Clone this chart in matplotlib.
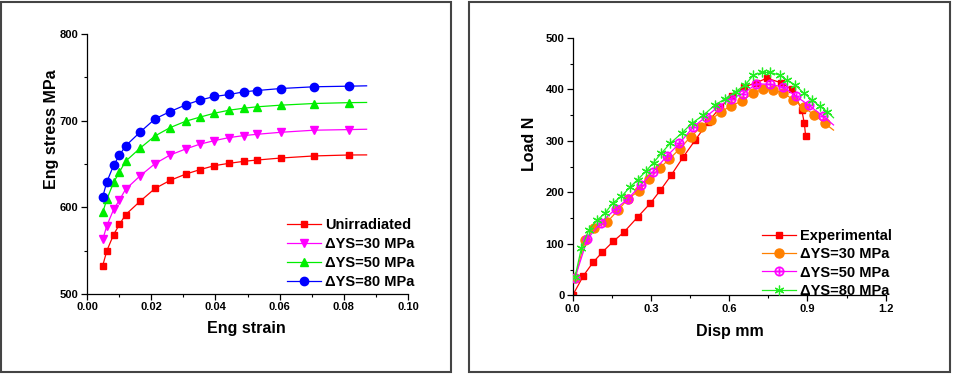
import matplotlib
matplotlib.use('Agg')
import matplotlib.pyplot as plt
from matplotlib.patches import Rectangle
from matplotlib.ticker import MultipleLocator

plt.rcParams['font.family'] = ['Liberation Sans', 'DejaVu Sans']
plt.rcParams['font.weight'] = 'bold'

# ---- left panel data: eng stress-strain ----
strain = [0.0049, 0.0062, 0.0083, 0.0101, 0.0120, 0.0166, 0.0212, 0.0259, 0.0308,
          0.0351, 0.0397, 0.0443, 0.0489, 0.0530, 0.0604, 0.0707, 0.0816, 0.0871]
s_unirr = [532.8, 550.1, 568.6, 580.2, 591.4, 607.2, 621.8, 631.1, 638.4,
           643.4, 648.1, 650.8, 653.1, 654.6, 656.9, 659.3, 660.4, 660.5]
s_30 = [562.9, 579.0, 597.6, 608.4, 620.7, 636.5, 650.4, 660.4, 667.4,
        672.8, 677.0, 680.5, 682.8, 684.3, 686.6, 689.0, 689.7, 690.1]
s_50 = [594.1, 609.5, 628.8, 640.7, 653.1, 668.5, 682.4, 692.0, 699.4,
        704.0, 708.6, 712.1, 714.4, 716.0, 717.9, 719.8, 720.8, 721.0]
s_80 = [612.2, 629.6, 648.5, 660.0, 670.8, 687.0, 702.1, 710.5, 718.3,
        723.7, 727.9, 730.2, 733.3, 734.8, 737.1, 739.1, 739.8, 740.2]

# ---- right panel data: load-displacement ----
d_exp = [0.0, 0.041, 0.078, 0.114, 0.156, 0.197, 0.249, 0.298, 0.336, 0.377, 0.424, 0.469,
         0.518, 0.565, 0.612, 0.658, 0.704, 0.744, 0.799, 0.840, 0.878, 0.888, 0.893]
l_exp = [0, 38, 64, 84, 105, 123, 152, 179, 204, 233, 269, 301,
         336, 365, 388, 405, 413, 422, 413, 400, 361, 334, 310]

d_30 = [0.009, 0.047, 0.082, 0.133, 0.175, 0.213, 0.254, 0.293, 0.333, 0.371, 0.411, 0.452, 0.492,
        0.530, 0.569, 0.607, 0.650, 0.690, 0.729, 0.767, 0.808, 0.846, 0.886, 0.925, 0.967, 1.0]
l_30 = [33, 107, 130, 143, 166, 188, 203, 226, 247, 265, 285, 308, 327,
        341, 357, 368, 378, 393, 400, 399, 393, 380, 365, 351, 334, 321]

d_50 = [0.009, 0.056, 0.107, 0.165, 0.211, 0.261, 0.308, 0.362, 0.409, 0.462, 0.511,
        0.557, 0.605, 0.654, 0.704, 0.755, 0.806, 0.856, 0.906, 0.958, 1.0]
l_50 = [34, 109, 141, 168, 187, 214, 240, 271, 295, 327, 347,
        366, 382, 392, 411, 410, 405, 387, 369, 349, 331]

d_80 = [0.009, 0.033, 0.061, 0.093, 0.123, 0.155, 0.187, 0.219, 0.250, 0.282, 0.310, 0.340,
        0.373, 0.418, 0.456, 0.501, 0.546, 0.585, 0.625, 0.661, 0.693, 0.725, 0.757, 0.793,
        0.821, 0.853, 0.885, 0.917, 0.948, 0.976, 1.0]
l_80 = [36, 91, 126, 146, 159, 180, 192, 210, 225, 242, 258, 276,
        295, 315, 334, 350, 370, 382, 396, 409, 428, 433, 433, 428,
        418, 409, 393, 380, 367, 357, 345]

fig = plt.figure(figsize=(9.56, 3.74), dpi=100)

# panel frames
for x0, x1 in [(1, 451), (469, 950)]:
    fig.patches.append(Rectangle((x0 / 956, 2 / 374), (x1 - x0) / 956, 370 / 374,
                                 transform=fig.transFigure, fill=False,
                                 edgecolor='#444444', linewidth=1.5))

ax1 = fig.add_axes([87 / 956, 1 - 294 / 374, 321 / 956, 260 / 374])
ax2 = fig.add_axes([572.7 / 956, 1 - 295.3 / 374, 313 / 956, 257.3 / 374])

last = len(strain) - 1
ax1.plot(strain, s_unirr, color='#ff0000', lw=0.9, marker='s', ms=5, markevery=range(last), label='Unirradiated')
ax1.plot(strain, s_30, color='#ff00ff', lw=0.9, marker='v', ms=6, markevery=range(last), label='ΔYS=30 MPa')
ax1.plot(strain, s_50, color='#00ee00', lw=0.9, marker='^', ms=6, markevery=range(last), label='ΔYS=50 MPa')
ax1.plot(strain, s_80, color='#0000ff', lw=0.9, marker='o', ms=6, markevery=range(last), label='ΔYS=80 MPa')

ax1.set_xlim(0, 0.10)
ax1.set_ylim(500, 800)
ax1.xaxis.set_major_locator(MultipleLocator(0.02))
ax1.xaxis.set_minor_locator(MultipleLocator(0.01))
ax1.yaxis.set_major_locator(MultipleLocator(100))
ax1.yaxis.set_minor_locator(MultipleLocator(50))
ax1.xaxis.set_major_formatter(matplotlib.ticker.FormatStrFormatter('%.2f'))
ax1.set_xlabel('Eng strain', fontsize=11.5, fontweight='bold')
ax1.set_ylabel('Eng stress MPa', fontsize=11.5, fontweight='bold')
ax1.xaxis.set_label_coords(0.498, -0.104)
ax1.yaxis.set_label_coords(-0.087, 0.635)
ax1.legend(loc='lower left', bbox_to_anchor=(0.615, 0.008), frameon=False, fontsize=10.5,
           handlelength=2.3, handletextpad=0.3, labelspacing=0.35, borderpad=0.2, borderaxespad=0)

ax2.plot(d_exp, l_exp, color='#ff0000', lw=0.9, marker='s', ms=5, label='Experimental', zorder=2)
ax2.plot(d_30, l_30, color='#ff8000', lw=0.9, marker='o', ms=6.5, markevery=range(len(d_30) - 1),
         label='ΔYS=30 MPa', zorder=3)
ax2.plot(d_50, l_50, color='#ff00ff', lw=0.9, marker=r'$\oplus$', ms=7, mew=0.2,
         markevery=range(len(d_50) - 1), label='ΔYS=50 MPa', zorder=4)
ax2.plot(d_80, l_80, color='#22ee22', lw=0.9, marker=(6, 2, 0), ms=7, mew=0.9,
         markevery=range(len(d_80) - 1), label='ΔYS=80 MPa', zorder=5)

ax2.set_xlim(0, 1.2)
ax2.set_ylim(0, 500)
ax2.xaxis.set_major_locator(MultipleLocator(0.3))
ax2.xaxis.set_minor_locator(MultipleLocator(0.15))
ax2.yaxis.set_major_locator(MultipleLocator(100))
ax2.yaxis.set_minor_locator(MultipleLocator(50))
ax2.xaxis.set_major_formatter(matplotlib.ticker.FormatStrFormatter('%.1f'))
ax2.set_xlabel('Disp mm', fontsize=11.5, fontweight='bold')
ax2.set_ylabel('Load N', fontsize=11.5, fontweight='bold')
ax2.xaxis.set_label_coords(0.503, -0.112)
ax2.yaxis.set_label_coords(-0.114, 0.587)
ax2.legend(loc='lower left', bbox_to_anchor=(0.6, -0.016), frameon=False, fontsize=10.5,
           handlelength=2.3, handletextpad=0.3, labelspacing=0.3, borderpad=0.1, borderaxespad=0)

for ax in (ax1, ax2):
    ax.spines['top'].set_visible(False)
    ax.spines['right'].set_visible(False)
    ax.spines['left'].set_linewidth(0.9)
    ax.spines['bottom'].set_linewidth(0.9)
    ax.tick_params(which='major', direction='out', length=4, width=0.9, labelsize=8, pad=2)
    ax.tick_params(which='minor', direction='out', length=2.5, width=0.8)
    for lab in ax.get_xticklabels() + ax.get_yticklabels():
        lab.set_fontweight('bold')

fig.savefig('out.png', dpi=100)
